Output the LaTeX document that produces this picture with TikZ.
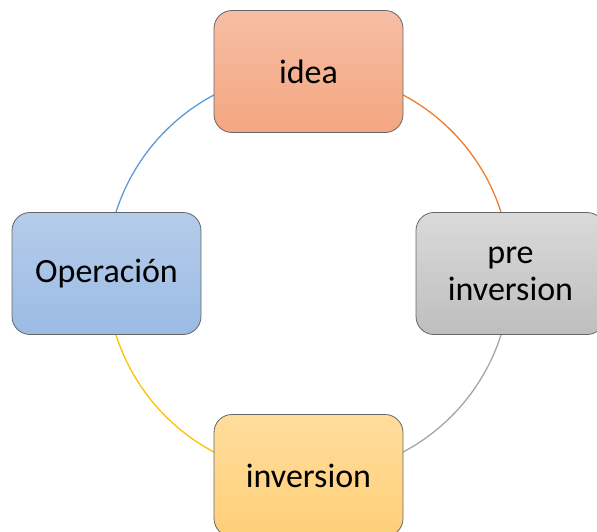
\documentclass[tikz,border=0pt]{standalone}
\usepackage{fontspec}
\setmainfont{Carlito}
\begin{document}
\begin{tikzpicture}[x=1pt,y=-1pt,
  stage/.style={draw=black!60, line width=0.8pt, rounded corners=18pt,
    minimum width=189pt, minimum height=122pt, align=center,
    font=\fontsize{34}{37}\selectfont, text=black},
  ring/.style={line width=1.3pt}]
  \definecolor{ideaTop}{HTML}{F6BEA4}
  \definecolor{ideaBot}{HTML}{F4A680}
  \definecolor{preTop}{HTML}{DADADA}
  \definecolor{preBot}{HTML}{BEBEBE}
  \definecolor{invTop}{HTML}{FFDD9C}
  \definecolor{invBot}{HTML}{FFCF78}
  \definecolor{opTop}{HTML}{B5CCEA}
  \definecolor{opBot}{HTML}{9BBBE4}
  \definecolor{ringOrange}{HTML}{ED7D31}
  \definecolor{ringGray}{HTML}{A5A5A5}
  \definecolor{ringGold}{HTML}{FFC000}
  \definecolor{ringBlue}{HTML}{5B9BD5}
  \useasboundingbox (0,0) rectangle (597,531);

  \coordinate (hub) at (308.5,273.5);
  \coordinate (pIdea) at (308.5,71.5);
  \coordinate (pPre) at (510.5,273.5);
  \coordinate (pInv) at (308.5,475.5);
  \coordinate (pOp) at (106.5,273.5);

  % cycle ring, one arc per stage, drawn under the boxes (y axis points down)
  \draw[ring, ringOrange] (pIdea) arc[start angle=-90, end angle=0, radius=202];
  \draw[ring, ringGray] (pPre) arc[start angle=0, end angle=90, radius=202];
  \draw[ring, ringGold] (pInv) arc[start angle=90, end angle=180, radius=202];
  \draw[ring, ringBlue] (pOp) arc[start angle=180, end angle=270, radius=202];

  \node[stage, top color=ideaTop, bottom color=ideaBot] (idea) at (pIdea) {idea};
  \node[stage, top color=preTop, bottom color=preBot] (pre) at (pPre) {pre\\inversion};
  \node[stage, top color=invTop, bottom color=invBot] (inv) at (pInv) {inversion};
  \node[stage, top color=opTop, bottom color=opBot] (op) at (pOp) {Operación};
\end{tikzpicture}
\end{document}
